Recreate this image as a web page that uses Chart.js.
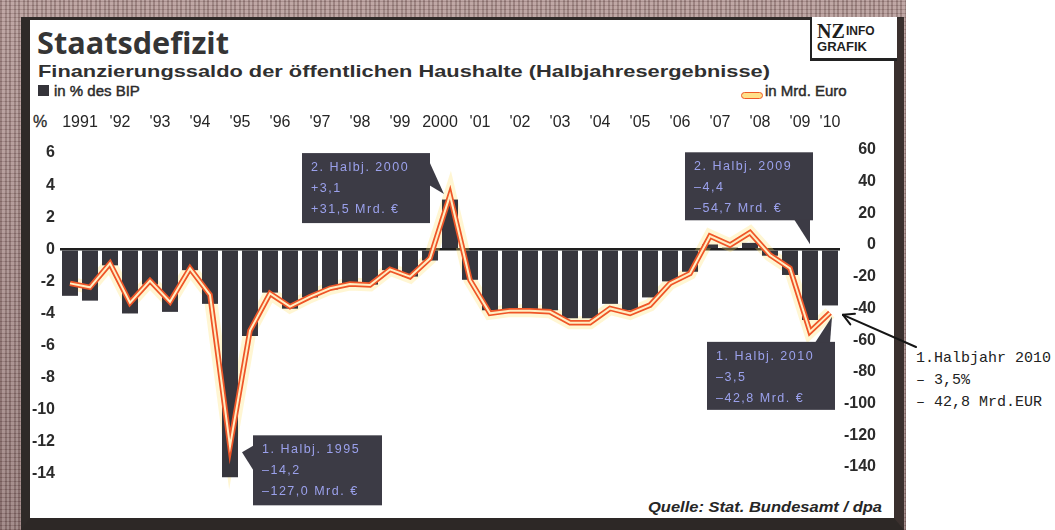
<!DOCTYPE html>
<html><head><meta charset="utf-8">
<title>Staatsdefizit</title>
<script src="https://cdn.jsdelivr.net/npm/chart.js@4.4.1/dist/chart.umd.min.js"></script>
<style>
html,body{margin:0;padding:0;background:#fff;}
#page{position:relative;width:1055px;height:530px;overflow:hidden;background:#fff;}
#band{position:absolute;left:0;top:0;width:906px;height:530px;
 background:
  repeating-linear-gradient(90deg, rgba(70,45,45,.22) 0 2px, rgba(255,240,240,.12) 2px 5px, rgba(60,40,40,.18) 5px 7px, rgba(255,255,255,.1) 7px 9px),
  repeating-linear-gradient(0deg, rgba(80,50,50,.18) 0 1px, rgba(255,235,235,.12) 1px 4px),
  linear-gradient(#ad9390,#8a716f);}
#frame{position:absolute;left:21px;top:17px;width:883px;height:513px;box-sizing:border-box;background:#fff;
 border-left:9px solid #2f2a28;border-top:3px solid #2f2a28;border-right:10px solid #3a302e;border-bottom:12px solid #2d2826;}
.t{position:absolute;white-space:nowrap;color:#2b2b2b;font-family:"Liberation Sans",Arial,sans-serif;line-height:1;transform-origin:0 0;}
#c{position:absolute;left:0;top:0;}
</style></head><body>
<div id="page">
 <div id="band"></div>
 <div id="frame"></div>
 <div class="t" id="title" style="font-family:'Open Sans';font-weight:700;font-size:31px;left:37px;top:27px;color:#353535;">Staatsdefizit</div>
 <div class="t" id="sub" style="font-weight:700;font-size:17px;left:38px;top:63px;color:#303030;">Finanzierungssaldo der öffentlichen Haushalte (Halbjahresergebnisse)</div>
 <div style="position:absolute;left:38px;top:85px;width:11px;height:11px;background:#35343a;"></div>
 <div class="t" id="leg1" style="font-size:15px;left:54px;top:83px;-webkit-text-stroke:0.45px #2b2b2b;">in % des BIP</div>
 <div style="position:absolute;left:741px;top:92px;width:20px;height:5px;border:1.5px solid #ee5a28;border-radius:4px;background:#ffe08a;"></div>
 <div class="t" id="leg2" style="font-size:15px;left:765px;top:83px;-webkit-text-stroke:0.45px #2b2b2b;">in Mrd. Euro</div>
 <div class="t" style="font-size:16px;left:33px;top:114px;-webkit-text-stroke:0.3px #2b2b2b;">%</div>
 <div style="position:absolute;left:810px;top:17px;width:85px;height:41px;background:#fff;border-left:2px solid #222;border-bottom:3px solid #222;"></div>
 <div class="t" style="font-family:'Liberation Serif';font-weight:700;font-size:20px;left:817px;top:21px;color:#1e1e1e;">NZ</div>
 <div class="t" style="font-weight:700;font-size:12px;left:846px;top:25px;color:#1e1e1e;">INFO</div>
 <div class="t" id="grafik" style="font-weight:700;font-size:12px;left:817px;top:41px;color:#1e1e1e;">GRAFIK</div>
 <div class="t" id="src" style="font-weight:700;font-style:italic;font-size:14px;left:648px;top:500px;color:#262626;">Quelle: Stat. Bundesamt / dpa</div>
 <div class="t" style="font-family:'Liberation Mono';font-size:15px;left:916px;top:351px;color:#222;">1.Halbjahr 2010</div>
 <div class="t" style="font-family:'Liberation Mono';font-size:15px;left:916px;top:373px;color:#222;">– 3,5%</div>
 <div class="t" style="font-family:'Liberation Mono';font-size:15px;left:916px;top:395px;color:#222;">– 42,8 Mrd.EUR</div>
 <canvas id="c" width="1055" height="530"></canvas>
</div>
<script>
// ---- data ----
const years = [1991,1992,1993,1994,1995,1996,1997,1998,1999,2000,2001,2002,2003,2004,2005,2006,2007,2008,2009,2010];
const yearLabels = ['1991',"'92","'93","'94","'95","'96","'97","'98","'99",'2000',"'01","'02","'03","'04","'05","'06","'07","'08","'09","'10"];
const halfYears = [];
years.forEach(y => { halfYears.push('1. Hj. ' + y); if (y < 2010) halfYears.push('2. Hj. ' + y); });

// Finanzierungssaldo in % des BIP (bars, left axis)
const saldoPct = [
  -2.9, -3.2, -1.0, -4.0, -2.2, -3.9, -1.3, -3.4, -14.2, -5.4,
  -2.7, -3.7, -3.0, -2.5, -2.3, -2.2, -1.3, -1.7, -0.7, 3.1,
  -1.9, -3.8, -3.8, -3.8, -3.8, -4.3, -4.3, -3.4, -3.8, -3.0,
  -2.0, -1.4, 0.3, 0.1, 0.4, -0.4, -1.6, -4.4, -3.5
];
// Finanzierungssaldo in Mrd. Euro (line, right axis)
const saldoMrd = [
  -24.2, -26.7, -11.6, -36.4, -22.5, -35.8, -14.7, -31.5, -127.0, -54.0,
  -30.5, -38.9, -32.6, -27.3, -24.6, -25.2, -15.3, -20.0, -8.4, 31.5,
  -22.1, -43.1, -41.4, -41.4, -42.1, -49.0, -49.0, -40.0, -43.1, -37.9,
  -24.2, -17.9, 5.7, 0.0, 7.8, -6.3, -14.7, -54.7, -42.8
];
const pctTicks = [6, 4, 2, 0, -2, -4, -6, -8, -10, -12, -14];
const mrdTicks = [60, 40, 20, 0, -20, -40, -60, -80, -100, -120, -140];
// callout boxes: index of the half-year they refer to
const callouts = [
  {i: 19, head: '2. Halbj. 2000'},
  {i: 37, head: '2. Halbj. 2009'},
  {i: 38, head: '1. Halbj. 2010'},
  {i: 8,  head: '1. Halbj. 1995'}
];
// top year-label positions (half-year index units)
const yearPos = years.map((y, k) => (y < 2010 ? 2 * k + 0.5 : 2 * k));

const fmt = v => (v > 0 ? '+' : (v < 0 ? '–' : '')) + Math.abs(v).toFixed(1).replace('.', ',');

const FONT = '"Liberation Sans", Arial, sans-serif';

const calloutPlugin = {
  id: 'callouts',
  afterDatasetsDraw(chart) {
    const ctx = chart.ctx;
    const xs = chart.scales.x, ys = chart.scales.y, y2 = chart.scales.y2;
    const geo = {
      19: () => { const ax = xs.getPixelForValue(19), ay = y2.getPixelForValue(saldoMrd[19]);
        const r = [ax - 148, ay - 42, 128, 70];
        return {r, p: [[r[0] + r[2] - 1, r[1] + 8], [r[0] + r[2] - 1, r[1] + 32], [ax - 6, ay - 1]]}; },
      37: () => { const ax = xs.getPixelForValue(37), ay = ys.getPixelForValue(0);
        const r = [ax - 125, ay - 97, 128, 68];
        return {r, p: [[r[0] + r[2] - 19, r[1] + r[3] - 1], [r[0] + r[2] - 3, r[1] + r[3] - 1], [ax, ay - 5]]}; },
      38: () => { const ax = xs.getPixelForValue(38), ay = y2.getPixelForValue(saldoMrd[38]);
        const r = [ax - 123, ay + 29, 128, 68];
        return {r, p: [[r[0] + r[2] - 20, r[1] + 1], [r[0] + r[2] - 5, r[1] + 1], [ax + 2, ay + 4]]}; },
      8: () => { const ax = xs.getPixelForValue(8), ay = y2.getPixelForValue(saldoMrd[8]);
        const r = [ax + 23, ay - 11, 129, 70];
        return {r, p: [[r[0] + 1, r[1] + 10], [r[0] + 1, r[1] + 36], [ax + 12, ay + 6]]}; }
    };
    ctx.save();
    callouts.forEach(c => {
      const g = geo[c.i]();
      ctx.fillStyle = '#3c3b45';
      ctx.fillRect(g.r[0], g.r[1], g.r[2], g.r[3]);
      ctx.beginPath();
      ctx.moveTo(g.p[0][0], g.p[0][1]); ctx.lineTo(g.p[1][0], g.p[1][1]); ctx.lineTo(g.p[2][0], g.p[2][1]);
      ctx.closePath(); ctx.fill();
      ctx.fillStyle = '#9ba1ec';
      ctx.font = '12.5px ' + FONT;
      if ('letterSpacing' in ctx) ctx.letterSpacing = '1.5px';
      ctx.textBaseline = 'alphabetic';
      ctx.textAlign = 'left';
      const lines = [c.head, fmt(saldoPct[c.i]), fmt(saldoMrd[c.i]) + ' Mrd. €'];
      lines.forEach((t, k) => ctx.fillText(t, g.r[0] + 9, g.r[1] + 18 + k * 21));
      if ('letterSpacing' in ctx) ctx.letterSpacing = '0px';
    });
    // hand-drawn arrow to the last value
    const n = saldoMrd.length - 1;
    const tx = xs.getPixelForValue(n) + 13, ty = y2.getPixelForValue(saldoMrd[n]) + 2;
    const sx = 916, sy = 347;
    ctx.strokeStyle = '#151515'; ctx.lineWidth = 2; ctx.lineCap = 'round';
    ctx.beginPath(); ctx.moveTo(sx, sy); ctx.lineTo(tx, ty); ctx.stroke();
    const ang = Math.atan2(sy - ty, sx - tx);
    [0.5, -0.5].forEach(d => {
      ctx.beginPath(); ctx.moveTo(tx, ty);
      ctx.lineTo(tx + 12 * Math.cos(ang + d), ty + 12 * Math.sin(ang + d)); ctx.stroke();
    });
    ctx.restore();
  }
};

new Chart(document.getElementById('c'), {
  data: {
    labels: halfYears,
    datasets: [
      {type: 'line', label: 'glow', data: saldoMrd, yAxisID: 'y2', xAxisID: 'x',
       borderColor: 'rgba(255,226,110,0.30)', borderWidth: 13, pointRadius: 0, tension: 0, order: 5},
      {type: 'bar', label: 'in % des BIP', data: saldoPct, yAxisID: 'y', xAxisID: 'x',
       backgroundColor: '#37363d', barPercentage: 0.8, categoryPercentage: 1, order: 4},
      {type: 'line', label: 'in Mrd. Euro', data: saldoMrd, yAxisID: 'y2', xAxisID: 'x',
       borderColor: '#ef5527', borderWidth: 5.5, pointRadius: 0, tension: 0, borderJoinStyle: 'miter', order: 2},
      {type: 'line', label: 'core', data: saldoMrd, yAxisID: 'y2', xAxisID: 'x',
       borderColor: '#ffedc2', borderWidth: 2, pointRadius: 0, tension: 0, borderJoinStyle: 'miter', order: 1}
    ]
  },
  options: {
    responsive: false, animation: false, devicePixelRatio: 1,
    layout: {padding: {left: 0, right: 179, top: 0, bottom: 32}},
    plugins: {legend: {display: false}, tooltip: {enabled: false}},
    scales: {
      x: {type: 'category', display: false, offset: true},
      xTop: {type: 'linear', position: 'top', min: -0.5, max: halfYears.length - 0.5, offset: false,
        grid: {display: false, drawTicks: false}, border: {display: false},
        afterBuildTicks: s => { s.ticks = yearPos.map(v => ({value: v})); },
        afterFit: s => { s.height = 145; },
        ticks: {autoSkip: false, maxRotation: 0, minRotation: 0, padding: 13, color: '#262626',
          font: {family: FONT, size: 16}, callback: (v, i) => yearLabels[i]}},
      y: {type: 'linear', position: 'left', min: -15.5, max: 6.5,
        afterBuildTicks: s => { s.ticks = pctTicks.map(v => ({value: v})); },
        afterFit: s => { s.width = 60; },
        grid: {drawTicks: false,
          color: c => (c.tick && c.tick.value === 0 ? '#1e1e1e' : 'rgba(0,0,0,0)'),
          lineWidth: c => (c.tick && c.tick.value === 0 ? 2.5 : 0)},
        border: {display: false},
        ticks: {padding: 5, color: '#2b2b2b', font: {family: FONT, size: 16, weight: 'bold'}}},
      y2: {type: 'linear', position: 'right', min: -159.6, max: 63.1,
        afterBuildTicks: s => { s.ticks = mrdTicks.map(v => ({value: v})); },
        afterFit: s => { s.width = 36; },
        grid: {display: false, drawTicks: false}, border: {display: false},
        ticks: {crossAlign: 'far', padding: 4, color: '#2b2b2b', font: {family: FONT, size: 16, weight: 'bold'}}}
    }
  },
  plugins: [calloutPlugin]
});

function fit(id, w) {
  const e = document.getElementById(id);
  e.style.transform = 'none';
  const r = e.getBoundingClientRect().width;
  if (r > 0) e.style.transform = 'scaleX(' + (w / r) + ')';
}
function fitAll() { fit('title', 192); fit('sub', 732); fit('src', 234); fit('grafik', 50); }
fitAll();
if (document.fonts && document.fonts.ready) document.fonts.ready.then(fitAll);
</script>
</body></html>
